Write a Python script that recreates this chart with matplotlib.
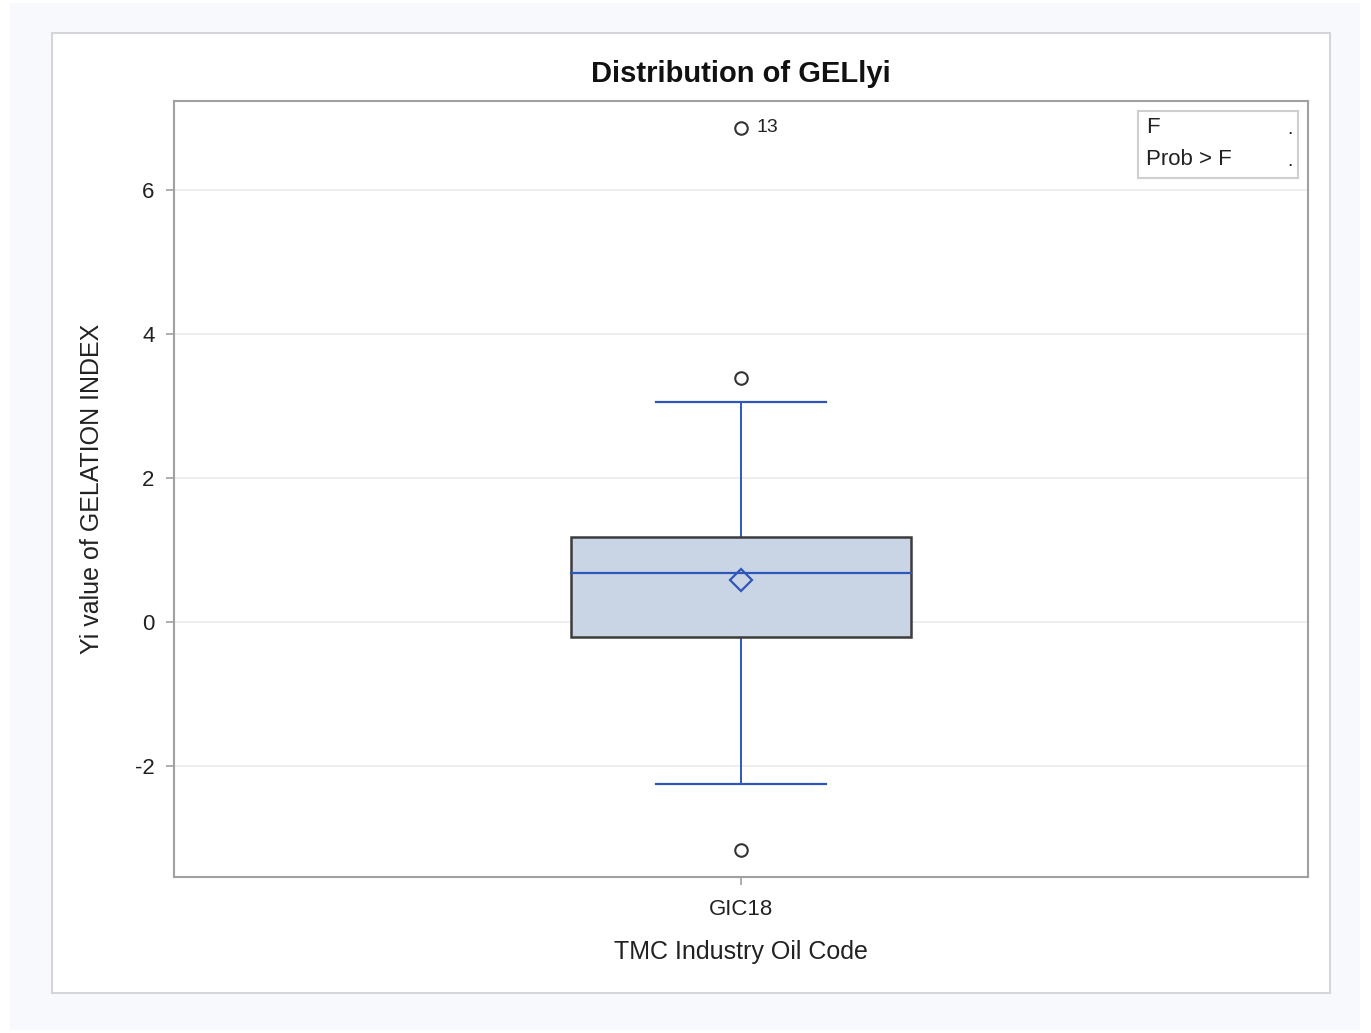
import matplotlib.pyplot as plt
from matplotlib.patches import Rectangle

plt.rcParams['font.family'] = ['Liberation Sans', 'DejaVu Sans']

# box plot summary for GELlyi
category = 'GIC18'
q1, median, q3 = -0.21, 0.69, 1.18
mean = 0.58
whisker_low, whisker_high = -2.25, 3.06
outliers = [6.87, 3.39, -3.16]
outlier_labels = ['13', '', '']
y_ticks = [-2, 0, 2, 4, 6]

blue = '#3057b8'
W, H = 1371, 1033

fig = plt.figure(figsize=(W / 100, H / 100), dpi=100)
fig.patch.set_facecolor('white')

# outer light background and white bordered panel
fig.patches.append(Rectangle((10 / W, 1 - 1030 / H), 1350 / W, 1027 / H,
                             transform=fig.transFigure, facecolor='#f8f9fd',
                             edgecolor='none', zorder=-3))
fig.patches.append(Rectangle((52 / W, 1 - 993 / H), (1330 - 52) / W, (993 - 33) / H,
                             transform=fig.transFigure, facecolor='white',
                             edgecolor='#d4d6da', linewidth=1.5, zorder=-2))

ax = fig.add_axes([174 / W, 1 - 877 / H, (1308 - 174) / W, (877 - 101) / H])
ax.set_xlim(-1, 1)
ax.set_ylim(-3.54, 7.24)

for t in y_ticks:
    ax.axhline(t, color='#ebebeb', linewidth=1.2, zorder=0)

x = 0
box_half = 0.3
cap_half = 0.15
ax.add_patch(Rectangle((x - box_half, q1), 2 * box_half, q3 - q1,
                       facecolor='#c9d4e4', edgecolor='#3c3c3c', linewidth=1.8, zorder=2))
ax.plot([x - box_half, x + box_half], [median, median], color=blue, linewidth=1.6, zorder=3)
ax.plot([x, x], [q3, whisker_high], color=blue, linewidth=1.4, zorder=1)
ax.plot([x, x], [q1, whisker_low], color=blue, linewidth=1.4, zorder=1)
ax.plot([x - cap_half, x + cap_half], [whisker_high] * 2, color=blue, linewidth=1.6)
ax.plot([x - cap_half, x + cap_half], [whisker_low] * 2, color=blue, linewidth=1.6)
ax.plot([x], [mean], marker='D', markersize=11, markerfacecolor='none',
        markeredgecolor=blue, markeredgewidth=1.6, zorder=4)
ax.plot([x] * len(outliers), outliers, 'o', markersize=9, markerfacecolor='none',
        markeredgecolor='#333333', markeredgewidth=1.5, zorder=4)
for v, lab in zip(outliers, outlier_labels):
    if lab:
        ax.annotate(lab, (x, v), xytext=(11, 0), textcoords='offset points',
                    va='center', ha='left', fontsize=14, color='#222222')

ax.set_xticks([x])
ax.set_xticklabels([category])
ax.set_yticks(y_ticks)
ax.set_yticklabels([str(t) for t in y_ticks])
ax.tick_params(axis='both', colors='#a0a0a0', labelcolor='#222222', labelsize=16,
               length=6, width=1.2)
ax.tick_params(axis='x', pad=10)
ax.tick_params(axis='y', pad=8)
for s in ax.spines.values():
    s.set_color('#a0a0a0')
    s.set_linewidth(1.5)

ax.set_xlabel('TMC Industry Oil Code', fontsize=18, color='#222222', labelpad=14)
ax.set_ylabel('Yi value of GELATION INDEX', fontsize=18, color='#222222', labelpad=22)
ax.set_title('Distribution of GELlyi', fontsize=21, fontweight='bold', color='#111111', pad=14)

# inset statistics box
stats = fig.add_axes([1138 / W, 1 - 178 / H, (1298 - 1138) / W, (178 - 111) / H])
stats.set_xticks([])
stats.set_yticks([])
for s in stats.spines.values():
    s.set_color('#cfcfcf')
    s.set_linewidth(1.5)
stats.text(0.05, 0.76, 'F', fontsize=16, va='center', color='#222222')
stats.text(0.05, 0.28, 'Prob > F', fontsize=16, va='center', color='#222222')
stats.text(0.93, 0.72, '.', fontsize=14, va='center', color='#222222')
stats.text(0.93, 0.24, '.', fontsize=14, va='center', color='#222222')

fig.savefig('out.png', dpi=100)
